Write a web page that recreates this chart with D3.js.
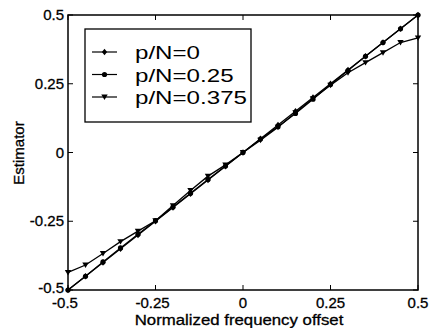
<!DOCTYPE html>
<html><head><meta charset="utf-8">
<script src="https://cdn.jsdelivr.net/npm/d3@7"></script>
<style>body{margin:0;background:#fff}svg{display:block}text{font-family:"Liberation Sans",Arial,sans-serif;fill:#000}</style>
</head><body><svg id="c" width="429" height="328"></svg>
<script>
const xs = [-0.5,-0.45,-0.4,-0.35,-0.3,-0.25,-0.2,-0.15,-0.1,-0.05,0,0.05,0.1,0.15,0.2,0.25,0.3,0.35,0.4,0.45,0.5];
const s0 = [-0.5,-0.45,-0.4,-0.35,-0.3,-0.25,-0.2,-0.15,-0.1,-0.05,0,0.05,0.1,0.15,0.2,0.25,0.3,0.35,0.4,0.45,0.5];
const s25 = [-0.5,-0.45,-0.398,-0.347,-0.297,-0.248,-0.198,-0.148,-0.098,-0.049,0,0.049,0.094,0.142,0.194,0.247,0.298,0.35,0.4,0.45,0.5];
const s375 = [-0.436,-0.409,-0.367,-0.324,-0.286,-0.248,-0.193,-0.138,-0.086,-0.045,0,0.045,0.092,0.145,0.196,0.245,0.29,0.327,0.363,0.4,0.417];
const labels = ["p/N=0","p/N=0.25","p/N=0.375"];
const markers = ["diamond","circle","tri"];
const xTicks = [-0.5,-0.25,0,0.25,0.5];
const yTicks = [-0.5,-0.25,0,0.25,0.5];
const tickText = v => v===0 ? "0" : String(v);

const svg = d3.select("#c");
const L=68,R=418,T=15,B=290;
const x = d3.scaleLinear().domain([-0.5,0.5]).range([L,R]);
const y = d3.scaleLinear().domain([-0.5,0.5]).range([B,T]);

// box
svg.append("rect").attr("x",L).attr("y",T).attr("width",R-L).attr("height",B-T).attr("fill","none").attr("stroke","#000").attr("stroke-width",1.5);
const tl=5;
xTicks.forEach(v=>{
  svg.append("line").attr("x1",x(v)).attr("x2",x(v)).attr("y1",B).attr("y2",B-tl).attr("stroke","#000");
  svg.append("line").attr("x1",x(v)).attr("x2",x(v)).attr("y1",T).attr("y2",T+tl).attr("stroke","#000");
  svg.append("text").attr("x",x(v)-(v<0?3:0)).attr("y",B+18).attr("text-anchor","middle").attr("font-size",15).attr("stroke","#000").attr("stroke-width",0.3).text(tickText(v));
});
yTicks.forEach(v=>{
  svg.append("line").attr("x1",L).attr("x2",L+tl).attr("y1",y(v)).attr("y2",y(v)).attr("stroke","#000");
  svg.append("line").attr("x1",R).attr("x2",R-tl).attr("y1",y(v)).attr("y2",y(v)).attr("stroke","#000");
  svg.append("text").attr("x",L-4).attr("y",y(v)+(v===-0.5?3:5)).attr("text-anchor","end").attr("font-size",15).attr("stroke","#000").attr("stroke-width",0.3).text(tickText(v));
});
svg.append("text").attr("transform",`translate(${(L+R)/2-4},325) scale(1.12,1)`).attr("text-anchor","middle").attr("font-size",15).attr("stroke","#000").attr("stroke-width",0.3).text("Normalized frequency offset");
svg.append("text").attr("transform","translate(24,153) rotate(-90)").attr("text-anchor","middle").attr("font-size",15).attr("stroke","#000").attr("stroke-width",0.3).text("Estimator");

function marker(g,type,cx,cy){
  if(type==="diamond") g.append("path").attr("d",`M${cx},${cy-3.2}L${cx+2.6},${cy}L${cx},${cy+3.2}L${cx-2.6},${cy}Z`).attr("fill","#000");
  else if(type==="circle") g.append("circle").attr("cx",cx).attr("cy",cy).attr("r",2.6).attr("fill","#000");
  else g.append("path").attr("d",`M${cx-3.2},${cy-2.4}L${cx+3.2},${cy-2.4}L${cx},${cy+3}Z`).attr("fill","#000");
}
const series=[s0,s25,s375];
const line=d3.line().x((d,i)=>x(xs[i])).y(d=>y(d));
const pg=svg.append("g");
series.forEach((s,k)=>{
  pg.append("path").datum(s).attr("d",line).attr("fill","none").attr("stroke","#000").attr("stroke-width",1.3);
  s.forEach((v,i)=>marker(pg,markers[k],x(xs[i]),y(v)));
});

// legend
svg.append("rect").attr("x",85).attr("y",29).attr("width",166).attr("height",93).attr("fill","#fff").attr("stroke","#000").attr("stroke-width",1.3);
labels.forEach((lab,k)=>{
  const ly=52+k*22.5;
  svg.append("line").attr("x1",92).attr("x2",117).attr("y1",ly).attr("y2",ly).attr("stroke","#000").attr("stroke-width",1.2);
  marker(svg,markers[k],104.5,ly);
  svg.append("text").attr("transform",`translate(135,${ly+7}) scale(1.27,1)`).attr("font-size",19).text(lab);
});
</script></body></html>
